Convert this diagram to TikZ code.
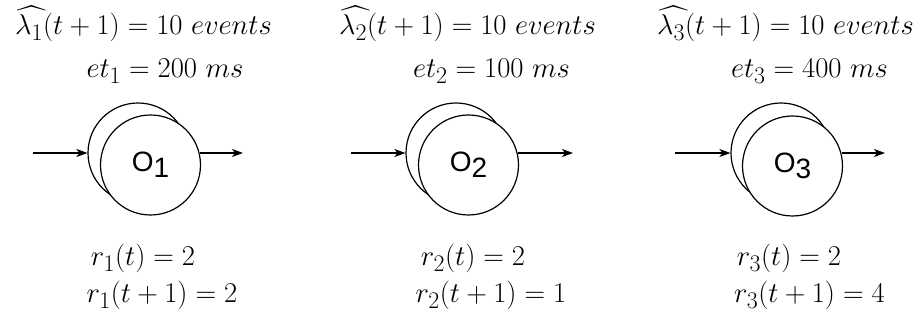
\documentclass[tikz,border=0pt]{standalone}
\usepackage{amsmath}
\usepackage{graphicx}
\usepackage{fontspec}
\newfontfamily\lsans{Liberation Sans}
\usetikzlibrary{arrows.meta}
\tikzset{
  opback/.style={circle,draw,line width=1.2pt,minimum size=100pt,inner sep=0pt},
  opfront/.style={circle,draw,fill=white,line width=1.2pt,minimum size=100pt,inner sep=0pt,font=\lsans\fontsize{28}{30}\selectfont},
  flow/.style={line width=1.2pt,-{Stealth[length=11pt,width=8pt,inset=3pt]}},
  mtext/.style={anchor=base,inner sep=0pt,font=\fontsize{24.88}{30}\selectfont}
}
\newcommand{\opname}[1]{O\raisebox{-6pt}{#1}}
\newcommand{\lhat}[1]{\widehat{\lambda_{#1}\,}\!}
\newcommand{\mt}[1]{\scalebox{1.15}{$#1$}}
\begin{document}
\begin{tikzpicture}[x=1pt,y=-1pt]
\useasboundingbox (0,0) rectangle (924,320);
% group 1
\node[opback] (b1) at (138,153) {};
\node[opfront] (o1) at (150.5,165) {\opname{1}};
\coordinate (in1) at (33,153);
\coordinate (out1) at (243,153);
\draw[flow] (in1) -- (b1.west);
\draw[flow] (o1.14 |- in1) -- (out1);
\node[mtext] (l1) at (143.5,35) {\mt{\lhat{1}(t+1) = 10\ events}};
\node[mtext] (e1) at (165,78) {\mt{et_1 = 200\ ms}};
\node[mtext] (ra1) at (143,266) {\mt{r_1(t) = 2}};
\node[mtext] (rb1) at (162,303) {\mt{r_1(t+1) = 2}};
% group 2
\node[opback] (b2) at (456,153) {};
\node[opfront] (o2) at (468.5,165) {\opname{2}};
\coordinate (in2) at (351,153);
\coordinate (out2) at (573,153);
\draw[flow] (in2) -- (b2.west);
\draw[flow] (o2.14 |- in2) -- (out2);
\node[mtext] (l2) at (467.5,35) {\mt{\lhat{2}(t+1) = 10\ events}};
\node[mtext] (e2) at (491.5,78) {\mt{et_2 = 100\ ms}};
\node[mtext] (ra2) at (473,266) {\mt{r_2(t) = 2}};
\node[mtext] (rb2) at (491,303) {\mt{r_2(t+1) = 1}};
% group 3
\node[opback] (b3) at (781,153) {};
\node[opfront] (o3) at (792.5,166) {\opname{3}};
\coordinate (in3) at (675,153);
\coordinate (out3) at (885,153);
\draw[flow] (in3) -- (b3.west);
\draw[flow] (o3.14 |- in3) -- (out3);
\node[mtext] (l3) at (785.5,35) {\mt{\lhat{3}(t+1) = 10\ events}};
\node[mtext] (e3) at (809.5,78) {\mt{et_3 = 400\ ms}};
\node[mtext] (ra3) at (789,266) {\mt{r_3(t) = 2}};
\node[mtext] (rb3) at (809.5,303) {\mt{r_3(t+1) = 4}};
\end{tikzpicture}
\end{document}
